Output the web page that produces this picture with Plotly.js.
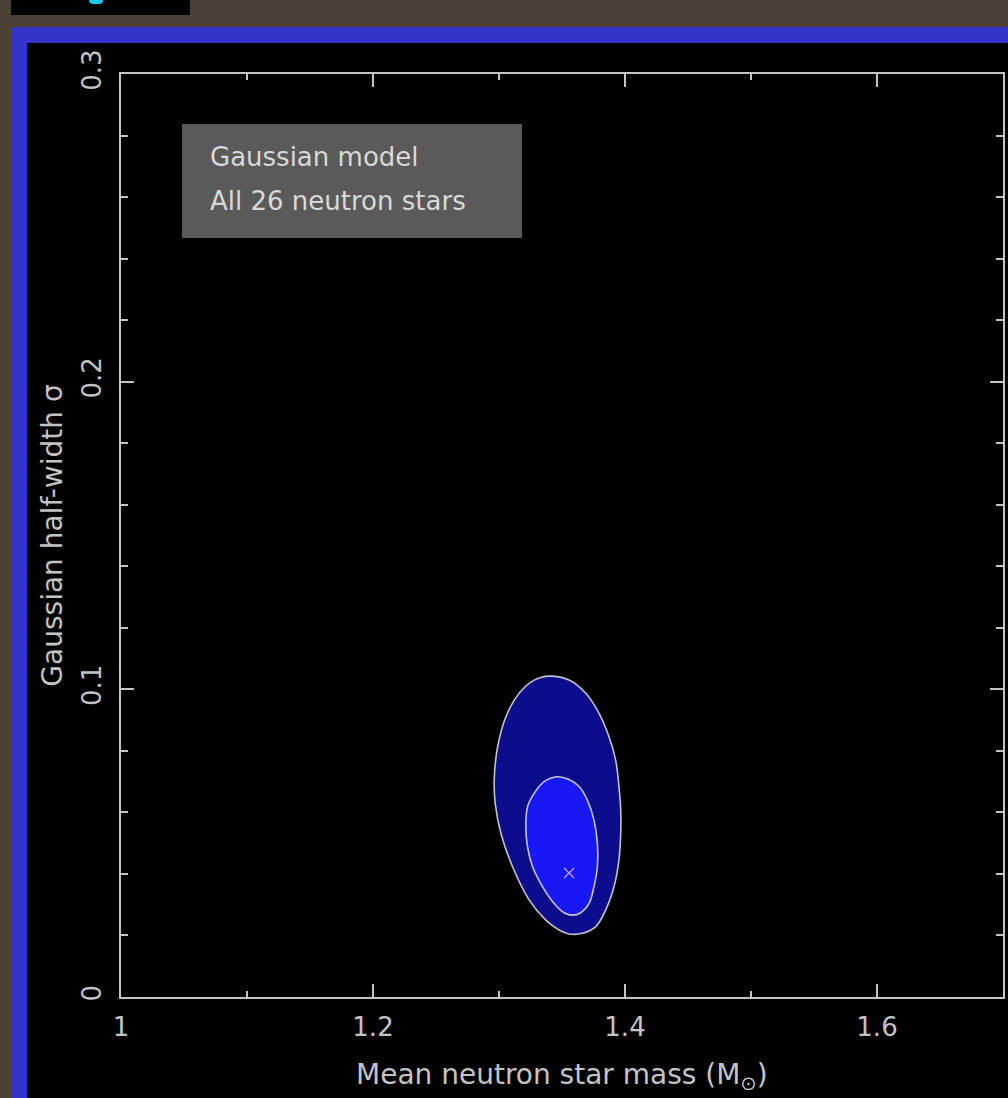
<!DOCTYPE html>
<html>
<head>
<meta charset="utf-8">
<script src="https://cdn.plot.ly/plotly-3.0.1.min.js"></script>
<style>
  html, body { margin:0; padding:0; width:1008px; height:1098px; overflow:hidden; background:#4a4033; }
  #topbox { position:absolute; left:11px; top:0; width:179px; height:15px; background:#000; }
  #cyan { position:absolute; left:78px; top:0; width:14px; height:4px; background:#18c8f0; border-radius:0 0 6px 6px; }
  #blue { position:absolute; left:11px; top:27px; width:1000px; height:1080px; background:#3333c8; }
  #panel { position:absolute; left:27px; top:43px; width:990px; height:1060px; background:#000; }
  #chart { position:absolute; left:0; top:0; width:1008px; height:1098px; }
</style>
</head>
<body>
<div id="topbox"><div id="cyan"></div></div>
<div id="blue"></div>
<div id="panel"></div>
<div id="chart"></div>
<script>
// Outer (larger) confidence contour
const outerX = [1.3398,1.3556,1.3689,1.3794,1.3873,1.3926,1.3952,1.3966,1.3966,1.3952,1.3913,1.3847,1.3768,1.3662,1.3556,1.3477,1.3372,1.3240,1.3107,1.3015,1.2970,1.2962,1.2989,1.3055,1.3160,1.3279,1.3398];
const outerY = [0.1043,0.1030,0.0987,0.0922,0.0846,0.0770,0.0684,0.0608,0.0532,0.0445,0.0359,0.0283,0.0229,0.0207,0.0205,0.0218,0.0250,0.0315,0.0424,0.0532,0.0629,0.0705,0.0813,0.0911,0.0987,0.1030,0.1043];
// Inner confidence contour
const innerX = [1.3464,1.3556,1.3636,1.3701,1.3754,1.3781,1.3781,1.3754,1.3715,1.3649,1.3583,1.3517,1.3438,1.3345,1.3266,1.3226,1.3213,1.3226,1.3279,1.3358,1.3464];
const innerY = [0.0716,0.0707,0.0684,0.0640,0.0575,0.0499,0.0424,0.0359,0.0304,0.0274,0.0266,0.0274,0.0304,0.0359,0.0424,0.0489,0.0553,0.0618,0.0662,0.0700,0.0716];
// Best-fit point
const bestX = [1.3556];
const bestY = [0.0403];

const xTitle = "Mean neutron star mass (M<sub>⊙</sub>)";
const yTitle = "Gaussian half-width σ";
const boxLines = ["Gaussian model", "All 26 neutron stars"];

const fg = "#c4c4c4";
const fnt = "DejaVu Sans, sans-serif";

const traces = [
  { x: outerX, y: outerY, type: "scatter", mode: "lines", fill: "toself",
    fillcolor: "#0c0c8c", line: { color: "rgba(215,215,215,0.9)", width: 1.6, shape: "spline", smoothing: 1 },
    hoverinfo: "skip", showlegend: false },
  { x: innerX, y: innerY, type: "scatter", mode: "lines", fill: "toself",
    fillcolor: "#1818f4", line: { color: "rgba(215,215,215,0.9)", width: 1.6, shape: "spline", smoothing: 1 },
    hoverinfo: "skip", showlegend: false },
  { x: bestX, y: bestY, type: "scatter", mode: "markers",
    marker: { symbol: "x-thin-open", size: 10, color: "#c8a8ff", line: { color: "#c8a8ff", width: 1.2 } },
    hoverinfo: "skip", showlegend: false }
];

const W = 1008, H = 1098;
const L = 121, R = 5, T = 74, B = 101;
const pw = W - L - R, ph = H - T - B;
const px = v => (v - L) / pw;
const py = v => 1 - (v - T) / ph;

const axisCommon = {
  showgrid: false, zeroline: false, showline: true, linecolor: fg, linewidth: 2,
  mirror: "ticks", ticks: "inside", tickcolor: fg, tickwidth: 2, ticklen: 13,
  tickfont: { family: fnt, size: 26, color: fg }
};

const layout = {
  width: W, height: H,
  margin: { l: L, r: R, t: T, b: B },
  paper_bgcolor: "rgba(0,0,0,0)",
  plot_bgcolor: "#000000",
  xaxis: Object.assign({}, axisCommon, {
    range: [1, 1.7], tick0: 1, dtick: 0.2,
    minor: { ticks: "inside", dtick: 0.1, ticklen: 6, tickcolor: fg, tickwidth: 2 },
    ticklabelstandoff: 6
  }),
  yaxis: Object.assign({}, axisCommon, {
    range: [0, 0.3], tick0: 0, dtick: 0.1, tickangle: -90,
    minor: { ticks: "inside", dtick: 0.02, ticklen: 7, tickcolor: fg, tickwidth: 2 },
    ticklabelstandoff: 8,
    title: { text: yTitle, standoff: 6, font: { family: fnt, size: 28, color: fg } }
  }),
  shapes: [
    { type: "rect", xref: "paper", yref: "paper", layer: "above",
      x0: px(182), x1: px(522), y0: py(238), y1: py(124),
      fillcolor: "#5a5a5a", line: { width: 0 } }
  ],
  annotations: [
    { xref: "paper", yref: "paper", x: px(208), y: py(157), xanchor: "left", yanchor: "middle",
      text: boxLines[0], showarrow: false, font: { family: fnt, size: 26, color: "#d8d8d8" } },
    { xref: "paper", yref: "paper", x: px(208), y: py(201), xanchor: "left", yanchor: "middle",
      text: boxLines[1], showarrow: false, font: { family: fnt, size: 26, color: "#d8d8d8" } },
    { xref: "paper", yref: "paper", x: 0.5, y: py(1097), xanchor: "center", yanchor: "bottom",
      text: xTitle, showarrow: false, font: { family: fnt, size: 28, color: fg } }
  ]
};

Plotly.newPlot("chart", traces, layout, { displayModeBar: false, staticPlot: true });
</script>
</body>
</html>
